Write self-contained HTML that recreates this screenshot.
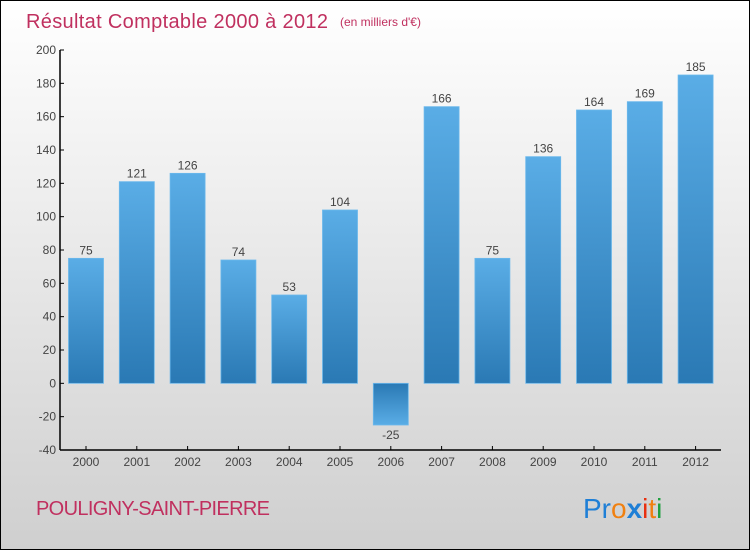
<!DOCTYPE html>
<html><head><meta charset="utf-8"><style>
html,body{margin:0;padding:0}
body{width:750px;height:550px;overflow:hidden;font-family:"Liberation Sans",sans-serif}
#wrap{position:relative;width:748px;height:548px;border:1px solid #000;background:linear-gradient(#fff,#cfcfcf)}
</style></head><body>
<div id="wrap">
<svg id="chart" width="748" height="548">
<defs>
<linearGradient id="gp" x1="0" y1="0" x2="0" y2="1"><stop offset="0" stop-color="#5aade6"/><stop offset="1" stop-color="#2a79b4"/></linearGradient>
<linearGradient id="gn" x1="0" y1="0" x2="0" y2="1"><stop offset="0" stop-color="#2a79b4"/><stop offset="1" stop-color="#5aade6"/></linearGradient>
</defs>
<text x="25" y="27" font-size="20" fill="#c0305f" textLength="302">Résultat Comptable 2000 à 2012</text>
<text x="339" y="25" font-size="12" fill="#c0305f">(en milliers d'€)</text>
<text x="35" y="514" font-size="20" fill="#c0305f" textLength="234">POULIGNY-SAINT-PIERRE</text>
<text x="582" y="517" font-size="28" font-family="Liberation Sans, sans-serif"><tspan fill="#1f7fd6">Pr</tspan><tspan fill="#f08010">o</tspan><tspan fill="#1f7fd6" font-weight="bold">x</tspan><tspan fill="#e83010">i</tspan><tspan fill="#f08010">t</tspan><tspan fill="#20a040">i</tspan></text>
<g id="plot"></g>
</svg>
</div>
<script>
const categories=["2000","2001","2002","2003","2004","2005","2006","2007","2008","2009","2010","2011","2012"];
const values=[75,121,126,74,53,104,-25,166,75,136,164,169,185];
const yTicks=[-40,-20,0,20,40,60,80,100,120,140,160,180,200];
const NS="http://www.w3.org/2000/svg";
const g=document.getElementById('plot');
const y0=449,y1=49,vmin=-40,vmax=200;
function y(v){return y0-(v-vmin)/(vmax-vmin)*(y0-y1);}
const left=59.6,step=50.8;
function xc(i){return left+step*(i+0.5);}
function el(t,a){const e=document.createElementNS(NS,t);for(const k in a)e.setAttribute(k,a[k]);g.appendChild(e);return e;}
let ax=el('line',{x1:59,y1:y1,x2:59,y2:y0,stroke:'#000','stroke-width':1.5});


let bx=el('line',{x1:59,y1:y0,x2:720,y2:y0,stroke:'#000','stroke-width':1.5});


yTicks.forEach(v=>{
 let t=el('line',{x1:59,y1:y(v),x2:63,y2:y(v),stroke:'#000'});
 
 
 let l=el('text',{x:55,y:y(v)+4,'text-anchor':'end','font-size':12,fill:'#444'});
 l.textContent=v;
 
 
});
categories.forEach((c,i)=>{
 const v=values[i],x=xc(i);
 let t=el('line',{x1:x,y1:y0-4,x2:x,y2:y0,stroke:'#000'});
 
 
 let l=el('text',{x:x,y:y0+16,'text-anchor':'middle','font-size':12,fill:'#444'});
 l.textContent=c;
 
 
 const top=Math.min(y(v),y(0)),h=Math.abs(y(v)-y(0));
 let b=el('rect',{x:x-17.5,y:top,width:35,height:h,fill:v>=0?'url(#gp)':'url(#gn)',stroke:'#6bb8ec','stroke-width':0.8});
 
 
 let vl=el('text',{x:x,y:v>=0?y(v)-4:y(v)+14,'text-anchor':'middle','font-size':12,fill:'#444'});
 vl.textContent=v;
 
 
});
</script>
</body></html>
